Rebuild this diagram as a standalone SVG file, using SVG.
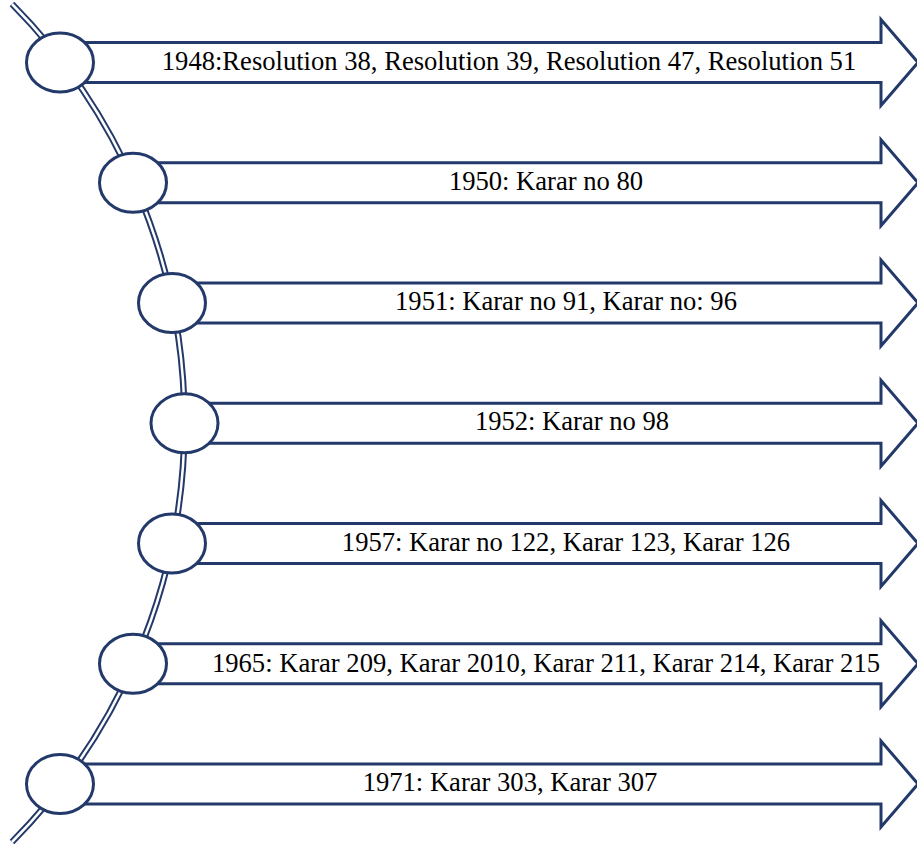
<svg xmlns="http://www.w3.org/2000/svg" width="917" height="848" viewBox="0 0 917 848">
<style>
.arrow{fill:#fff;stroke:#22396a;stroke-width:3;stroke-linejoin:miter}
.dot{fill:#fff;stroke:#22396a;stroke-width:3}
.lbl{font-family:"Liberation Serif","Times New Roman",serif;font-size:26.6px;fill:#000;text-anchor:middle}
.rail-out{fill:none;stroke:#22396a;stroke-width:6.5}
.rail-in{fill:none;stroke:#fff;stroke-width:2.5}
</style>
<rect width="917" height="848" fill="#fff"/>
<g id="connectors">
<path class="rail-out" d="M 12 4 A 595.1 595.1 0 0 1 12 842"/>
<path class="rail-in" d="M 12 4 A 595.1 595.1 0 0 1 12 842"/>
</g>
<g id="node-1948">
<polygon class="arrow" points="63,42.5 881,42.5 881,19.5 918,62.5 881,105.5 881,82.5 63,82.5"/>
<ellipse class="dot" cx="60" cy="62.5" rx="33.5" ry="29.5"/>
<text class="lbl" x="509" y="69.5">1948:Resolution 38, Resolution 39, Resolution 47, Resolution 51</text>
</g>
<g id="node-1950">
<polygon class="arrow" points="133,162.75 881,162.75 881,139.75 918,182.75 881,225.75 881,202.75 133,202.75"/>
<ellipse class="dot" cx="133" cy="182.75" rx="33.5" ry="29.5"/>
<text class="lbl" x="546" y="190">1950: Karar no 80</text>
</g>
<g id="node-1951">
<polygon class="arrow" points="172,283 881,283 881,260 918,303 881,346 881,323 172,323"/>
<ellipse class="dot" cx="172" cy="303" rx="33.5" ry="29.5"/>
<text class="lbl" x="566" y="310">1951: Karar no 91, Karar no: 96</text>
</g>
<g id="node-1952">
<polygon class="arrow" points="184.5,403.25 881,403.25 881,380.25 918,423.25 881,466.25 881,443.25 184.5,443.25"/>
<ellipse class="dot" cx="184.5" cy="423.25" rx="33.5" ry="29.5"/>
<text class="lbl" x="572" y="430.25">1952: Karar no 98</text>
</g>
<g id="node-1957">
<polygon class="arrow" points="172,523.5 881,523.5 881,500.5 918,543.5 881,586.5 881,563.5 172,563.5"/>
<ellipse class="dot" cx="172" cy="543.5" rx="33.5" ry="29.5"/>
<text class="lbl" x="566" y="550.5">1957: Karar no 122, Karar 123, Karar 126</text>
</g>
<g id="node-1965">
<polygon class="arrow" points="133,643.75 881,643.75 881,620.75 918,663.75 881,706.75 881,683.75 133,683.75"/>
<ellipse class="dot" cx="133" cy="663.75" rx="33.5" ry="29.5"/>
<text class="lbl" x="546" y="671.5">1965: Karar 209, Karar 2010, Karar 211, Karar 214, Karar 215</text>
</g>
<g id="node-1971">
<polygon class="arrow" points="61,764 881,764 881,741 918,784 881,827 881,804 61,804"/>
<ellipse class="dot" cx="60" cy="784" rx="33.5" ry="29.5"/>
<text class="lbl" x="510" y="791">1971: Karar 303, Karar 307</text>
</g>
</svg>
